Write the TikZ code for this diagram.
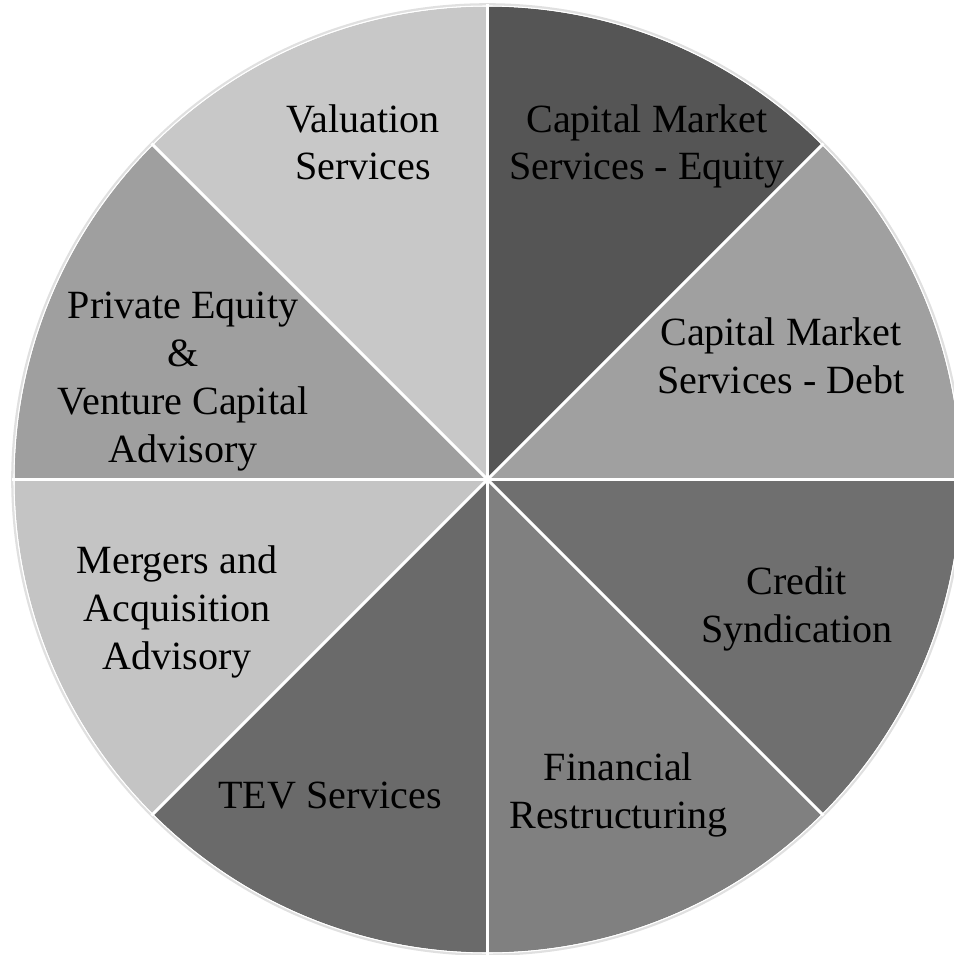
\documentclass[tikz,border=0pt]{standalone}
\usepackage{fontspec}
\setmainfont{Liberation Serif}
\usepackage{tikz}

\definecolor{valuation}{HTML}{C8C8C8}
\definecolor{equity}{HTML}{555555}
\definecolor{debt}{HTML}{A0A0A0}
\definecolor{credit}{HTML}{6F6F6F}
\definecolor{restructuring}{HTML}{808080}
\definecolor{tev}{HTML}{6A6A6A}
\definecolor{mergers}{HTML}{C4C4C4}
\definecolor{private}{HTML}{9F9F9F}

\begin{document}
\begin{tikzpicture}[
    slicetext/.style={align=center, anchor=base, inner sep=0pt, text=black,
        font=\fontsize{22.8}{27.3}\selectfont}
]
    \useasboundingbox (-9.75,-9.51) rectangle (9.33,9.59);
    \draw[black!12, line width=1.5pt] (0,0) circle (9.5);
    \foreach \a/\col in {90/valuation, 45/equity, 0/debt, -45/credit, -90/restructuring, -135/tev, 180/mergers, 135/private}
        \fill[\col] (0,0) -- (\a:9.46) arc (\a:\a+45:9.46) -- cycle;
    \foreach \a in {0,45,...,315}
        \draw[white, line width=1.7pt] (0,0) -- (\a:9.5);
    \draw[white, line width=0.6pt] (0,0) circle (9.47);

    % labels sit on the baseline of their last line
    \node[slicetext] (valuation) at (-2.49,5.99) {Valuation\\Services};
    \node[slicetext] (equity) at (3.19,5.99) {Capital Market\\Services - Equity};
    \node[slicetext] (debt) at (5.87,1.73) {Capital Market\\Services - Debt};
    \node[slicetext] (credit) at (6.19,-3.25) {Credit\\Syndication};
    \node[slicetext] (restructuring) at (2.62,-6.97) {Financial\\Restructuring};
    \node[slicetext] (tev) at (-3.15,-6.57) {TEV Services};
    \node[slicetext] (mergers) at (-6.21,-3.79) {Mergers and\\Acquisition\\Advisory};
    \node[slicetext] (private) at (-6.09,0.35) {Private Equity\\\&\\Venture Capital\\Advisory};
\end{tikzpicture}
\end{document}
